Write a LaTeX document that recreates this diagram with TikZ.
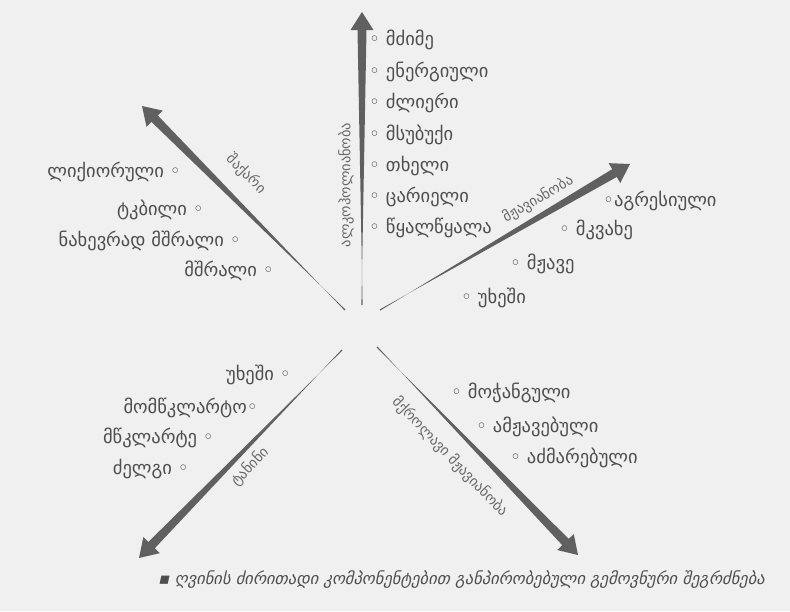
\documentclass[tikz,border=0pt]{standalone}
\usepackage{fontspec}
\setmainfont{DejaVu Sans}
\newfontfamily\geoit[FakeSlant=0.22]{DejaVu Sans}
\usetikzlibrary{calc}

\definecolor{paper}{RGB}{240,240,240}
\definecolor{ink}{RGB}{78,78,78}
\definecolor{shaft}{RGB}{96,96,96}

% tapered arrow from a thin tail #1 to the tip #2
\newcommand{\taperarrow}[2]{%
  \coordinate (#1base) at ($(#2)!18pt!(#1)$);
  \fill[shaft] ($(#1)!0.6pt!90:(#2)$) -- ($(#1base)!4.5pt!-90:(#2)$) -- ($(#1base)!11.5pt!-90:(#2)$)
    -- (#2) -- ($(#1base)!11.5pt!90:(#2)$) -- ($(#1base)!4.5pt!90:(#2)$) -- ($(#1)!0.6pt!-90:(#2)$) -- cycle;
}

\tikzset{
  item/.style={text=ink, inner sep=0pt, font=\fontsize{18.5}{18.5}\selectfont},
  axislabel/.style={text=ink!85, inner sep=0pt, font=\fontsize{14.5}{14.5}\selectfont},
}

\begin{document}
\begin{tikzpicture}[x=1pt, y=-1pt]
    \useasboundingbox[fill=paper] (0,0) rectangle (790,611);

    % arrow ends
    \coordinate (alc) at (362,305);   \coordinate (alctip) at (362,12);
    \coordinate (sug) at (345,310);   \coordinate (sugtip) at (142,106);
    \coordinate (aci) at (380,310);   \coordinate (acitip) at (630,164);
    \coordinate (tan) at (342,350);   \coordinate (tantip) at (139,558);
    \coordinate (vol) at (377,347);   \coordinate (voltip) at (578,555);

    \taperarrow{alc}{alctip}
    \taperarrow{sug}{sugtip}
    \taperarrow{aci}{acitip}
    \taperarrow{tan}{tantip}
    \taperarrow{vol}{voltip}

    % axis labels
    \node[axislabel, rotate=90] (alclabel) at (346,185) {ალკოჰოლიანობა};
    \node[axislabel, rotate=-45] (suglabel) at (246,174) {შაქარი};
    \node[axislabel, rotate=30] (acilabel) at (538,199) {მჟავიანობა};
    \node[axislabel, rotate=46] (tanlabel) at (250,467) {ტანინი};
    \node[axislabel, rotate=-46] (vollabel) at (450,457) {მქროლავი მჟავიანობა};

    % alcohol
    \node[item, anchor=west] (alc1) at (369,40) {◦ მძიმე};
    \node[item, anchor=west] (alc2) at (369,72) {◦ ენერგიული};
    \node[item, anchor=west] (alc3) at (369,103) {◦ ძლიერი};
    \node[item, anchor=west] (alc4) at (369,135) {◦ მსუბუქი};
    \node[item, anchor=west] (alc5) at (369,166) {◦ თხელი};
    \node[item, anchor=west] (alc6) at (369,197) {◦ ცარიელი};
    \node[item, anchor=west] (alc7) at (369,228) {◦ წყალწყალა};

    % sugar
    \node[item, anchor=east] (sug1) at (181,172) {ლიქიორული ◦};
    \node[item, anchor=east] (sug2) at (204,210) {ტკბილი ◦};
    \node[item, anchor=east] (sug3) at (241,241) {ნახევრად მშრალი ◦};
    \node[item, anchor=east] (sug4) at (274,271) {მშრალი ◦};

    % acidity
    \node[item, anchor=west] (aci1) at (603,201) {◦აგრესიული};
    \node[item, anchor=west] (aci2) at (559,230) {◦ მკვახე};
    \node[item, anchor=west] (aci3) at (510,264) {◦ მჟავე};
    \node[item, anchor=west] (aci4) at (461,298) {◦ უხეში};

    % tannin
    \node[item, anchor=east] (tan1) at (291,375) {უხეში ◦};
    \node[item, anchor=east] (tan2) at (258,408) {მომწკლარტო◦};
    \node[item, anchor=east] (tan3) at (214,438) {მწკლარტე ◦};
    \node[item, anchor=east] (tan4) at (189,469) {ძელგი ◦};

    % volatile acidity
    \node[item, anchor=west] (vol1) at (451,393) {◦ მოჭანგული};
    \node[item, anchor=west] (vol2) at (476,427) {◦ ამჟავებული};
    \node[item, anchor=west] (vol3) at (510,458) {◦ აძმარებული};

    \node[text=ink, inner sep=0pt, anchor=west, font=\geoit\fontsize{16.5}{16.5}\selectfont] (caption) at (158,580)
        {▪ ღვინის ძირითადი კომპონენტებით განპირობებული გემოვნური შეგრძნება};
\end{tikzpicture}
\end{document}
